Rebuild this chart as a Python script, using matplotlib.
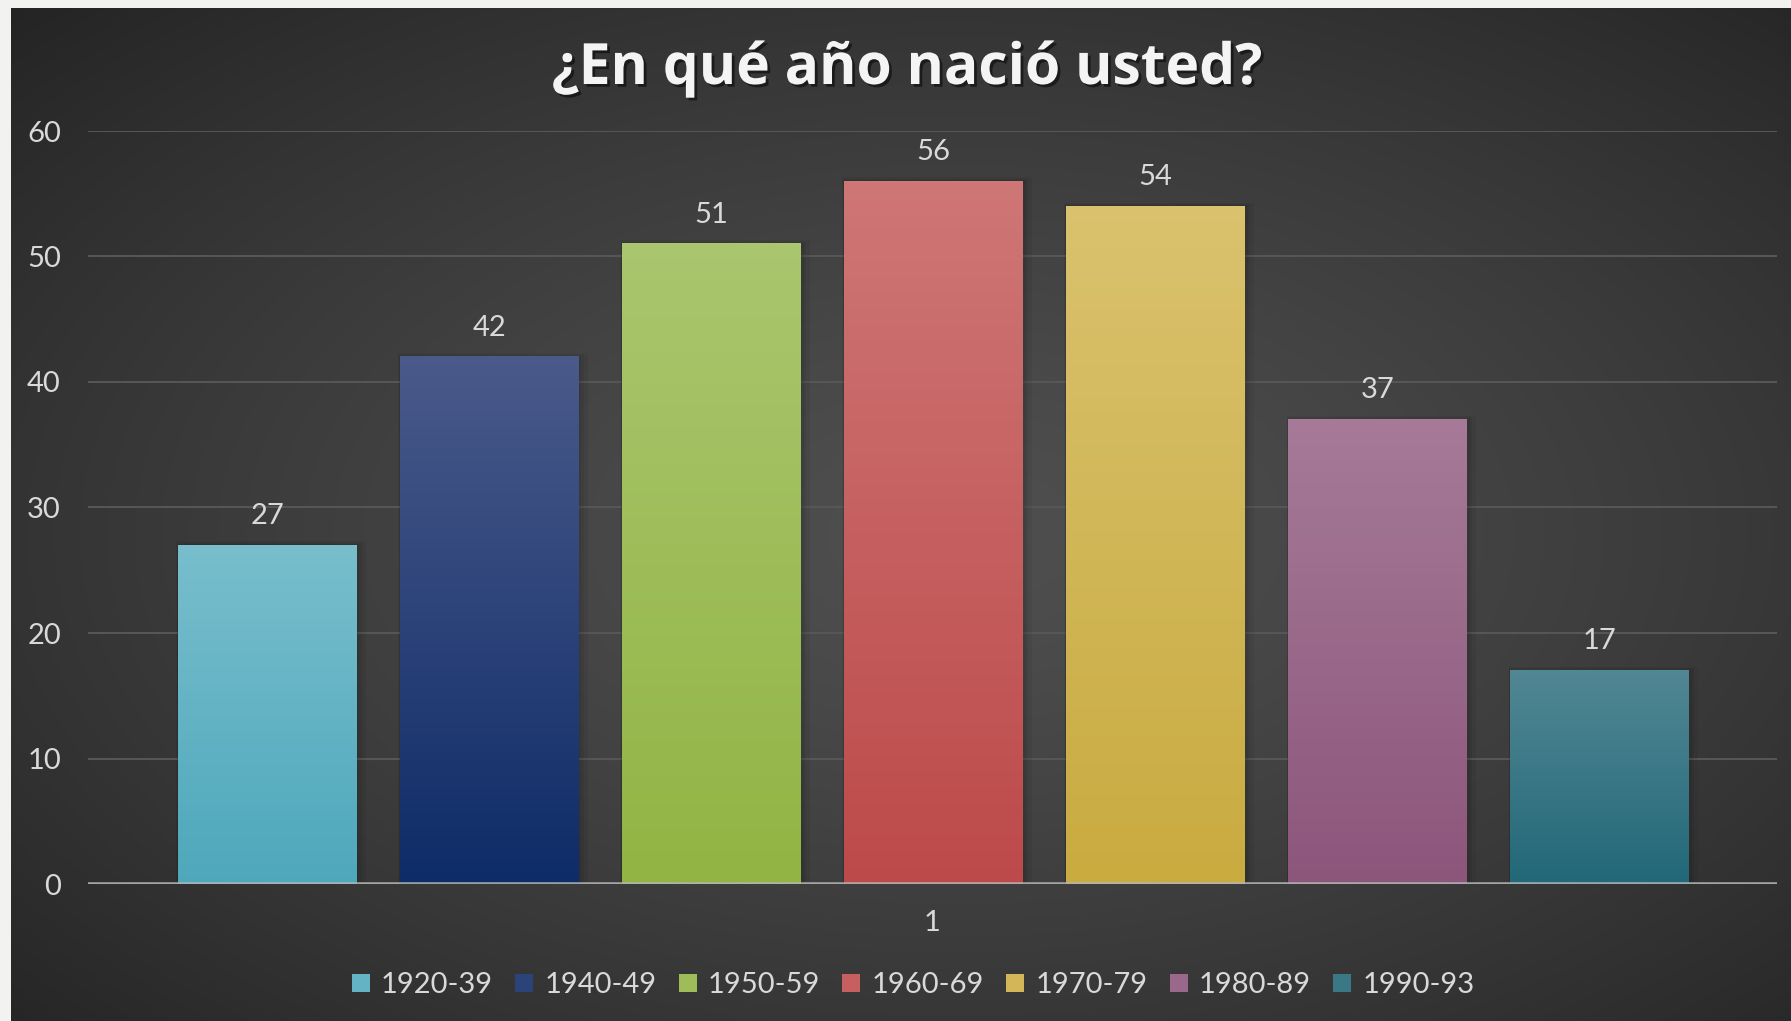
import numpy as np
import matplotlib
matplotlib.use("Agg")
import matplotlib.pyplot as plt
from matplotlib import patheffects as pe
from matplotlib.patches import Rectangle
from matplotlib.colors import to_rgb

title = "¿En qué año nació usted?"
categories = ["1920-39", "1940-49", "1950-59", "1960-69", "1970-79", "1980-89", "1990-93"]
values = [27, 42, 51, 56, 54, 37, 17]
top_colors = ["#78becd", "#4a5a8a", "#aac66e", "#cf7676", "#dac26e", "#a67a98", "#528794"]
bottom_colors = ["#4ea8bb", "#0e2c68", "#92b444", "#bd4a4a", "#c9ab40", "#8c567b", "#226878"]
y_ticks = [0, 10, 20, 30, 40, 50, 60]
x_label = "1"

W, H = 1791, 1021
plt.rcParams['font.family'] = ['Lato', 'DejaVu Sans']
fig = plt.figure(figsize=(W / 100, H / 100), dpi=100, facecolor="#f2f2f0")

# background gradient
bg = fig.add_axes([11 / W, 0, 1 - 11 / W, 1 - 8 / H])
bg.axis('off')
yy, xx = np.mgrid[0:1:300j, 0:1:500j]
d = np.sqrt(((xx - 0.53) / 0.75) ** 2 + ((yy - 0.52) / 0.75) ** 2)
lum = 0.31 - 0.17 * np.clip(d, 0, 1) ** 1.3
img = np.dstack([lum, lum, lum])
bg.imshow(img, extent=[0, 1, 0, 1], aspect='auto', interpolation='bilinear')
bg.set_xlim(0, 1)
bg.set_ylim(0, 1)

ax = fig.add_axes([88 / W, 1 - 884 / H, (1777 - 88) / W, (884 - 131) / H])
ax.patch.set_alpha(0)

x = np.arange(len(values))
bars = ax.bar(x, values, width=0.806, color='none', zorder=3)
for b, tc, bc in zip(bars, top_colors, bottom_colors):
    x0, w, h = b.get_x(), b.get_width(), b.get_height()
    t = np.linspace(0, 1, 200)[:, None]
    c1, c2 = np.array(to_rgb(tc)), np.array(to_rgb(bc))
    grad = (c1[None, :] * (1 - t) + c2[None, :] * t)[:, None, :]
    # soft shadow
    for k, a in [(0.03, 0.05), (0.018, 0.06), (0.009, 0.06)]:
        ax.add_patch(Rectangle((x0 - k * 0.2, 0), w + 1.6 * k, h + k * 10,
                               facecolor='black', alpha=a, lw=0, zorder=2.5))
    ax.imshow(grad, extent=[x0, x0 + w, 0, h], aspect='auto', zorder=3,
              interpolation='bilinear')
    ax.annotate(str(int(h)), (x0 + w / 2, h), xytext=(0, 21.0),
                textcoords='offset points', ha='center', va='center',
                fontsize=21, color='#d9d9d9')

xlim = (-0.807, len(values) - 1 + 0.80)
ax.set_xlim(*xlim)
ax.set_ylim(0, 60)
ax.set_yticks(y_ticks)
ax.set_xticks([np.mean(xlim)])
ax.set_xticklabels([x_label])
ax.yaxis.grid(True, color='#575757', lw=1.4, zorder=1)
ax.set_axisbelow(True)
ax.axhline(0, color='#b4b4b4', lw=2.6, alpha=0.85, zorder=4)
for s in ax.spines.values():
    s.set_visible(False)
ax.tick_params(axis='both', length=0, labelsize=21, labelcolor='#d9d9d9')
ax.tick_params(axis='y', pad=19.5)
ax.tick_params(axis='x', pad=19)

fig.text(907 / W, 1 - 69 / H, title, ha='center', va='center', fontsize=41,
         fontweight='bold', color='#f4f4f4', family=['Open Sans', 'DejaVu Sans'],
         path_effects=[pe.withSimplePatchShadow(offset=(2, -2), shadow_rgbFace='black', alpha=0.5)])

handles = [Rectangle((0, 0), 1, 1, facecolor=bc, edgecolor='none') for bc in
           [tuple((np.array(to_rgb(t)) + np.array(to_rgb(b))) / 2) for t, b in zip(top_colors, bottom_colors)]]
leg = fig.legend(handles, categories, loc='center', bbox_to_anchor=(913 / W, 1 - 985 / H),
                 ncol=7, frameon=False, fontsize=21, handlelength=0.62, handleheight=0.59,
                 handletextpad=0.38, columnspacing=0.76)
for t in leg.get_texts():
    t.set_color('#d9d9d9')

fig.savefig("out.png", dpi=100, facecolor=fig.get_facecolor())
